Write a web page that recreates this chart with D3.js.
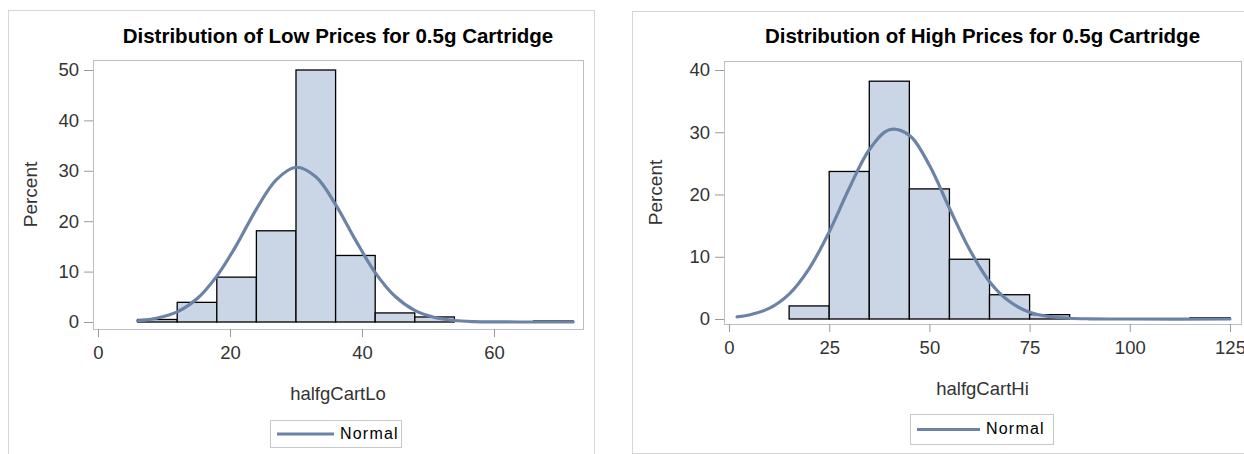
<!DOCTYPE html>
<html lang="en">
<head>
  <meta charset="UTF-8">
  <title>Distribution of Prices for 0.5g Cartridge</title>
  <script src="https://d3js.org/d3.v7.min.js"></script>
  <style>
    body { margin: 0; background: #fff; }
    text { font-family: "Liberation Sans", Arial, sans-serif; }
  </style>
</head>
<body>
<div id="chart"></div>
<script>

  // ---- low prices panel ----
  const loBinStart = [6, 12, 18, 24, 30, 36, 42, 48, 54, 60, 66];
  const loBinWidth = 6;
  const loPercent = [0.5, 3.9, 8.9, 18.1, 50.0, 13.2, 1.8, 1.0, 0, 0, 0.2];
  const loCurveX = [6, 9, 12, 15, 18, 21, 24, 27, 30, 33, 36, 39, 42, 45, 48, 51, 54, 57, 60, 66, 72];
  const loCurveY = [0.25, 0.8, 2.0, 4.6, 9.1, 15.3, 22.4, 28.2, 30.7, 28.8, 23.3, 16.3, 9.8, 5.1, 2.3, 0.9, 0.3, 0.08, 0.02, 0, 0];
  const loTicksX = [0, 20, 40, 60];
  const loTicksY = [0, 10, 20, 30, 40, 50];

  // ---- high prices panel ----
  const hiBinStart = [15, 25, 35, 45, 55, 65, 75, 85, 95, 105, 115];
  const hiBinWidth = 10;
  const hiPercent = [2.1, 23.7, 38.2, 20.9, 9.6, 3.9, 0.7, 0, 0, 0, 0.2];
  const hiCurveX = [2, 5, 10, 15, 20, 25, 30, 35, 40, 45, 50, 55, 60, 65, 70, 75, 80, 85, 90, 100, 125];
  const hiCurveY = [0.33, 0.64, 1.7, 4.0, 8.1, 14.0, 21.0, 27.2, 30.4, 29.5, 24.7, 17.8, 11.2, 6.0, 2.8, 1.1, 0.4, 0.12, 0.03, 0, 0];
  const hiTicksX = [0, 25, 50, 75, 100, 125];
  const hiTicksY = [0, 10, 20, 30, 40];

  const barFill = "#cad5e5";
  const curveColor = "#6a83a6";

  var svg = d3.select("#chart").append("svg")
    .attr("width", 1244)
    .attr("height", 454);

  function drawPanel(p) {
    var g = svg.append("g");

    // outer border of the graph
    g.append("rect")
      .attr("x", p.box[0] + 0.5).attr("y", p.box[1] + 0.5)
      .attr("width", p.box[2]).attr("height", p.box[3])
      .attr("fill", "none").attr("stroke", "#d6d6d6");

    var xScale = d3.scaleLinear().domain(p.xDomain).range(p.xRange);
    var yScale = d3.scaleLinear().domain(p.yDomain).range(p.yRange);

    // plot frame
    g.append("rect")
      .attr("x", p.frame[0] + 0.5).attr("y", p.frame[1] + 0.5)
      .attr("width", p.frame[2] - p.frame[0]).attr("height", p.frame[3] - p.frame[1])
      .attr("fill", "none").attr("stroke", "#b9bfc6");

    // bars
    g.append("g").selectAll("rect")
      .data(p.starts.map((s, i) => ({ s: s, v: p.values[i] })))
      .join("rect")
      .attr("x", d => xScale(d.s))
      .attr("width", d => xScale(d.s + p.binWidth) - xScale(d.s))
      .attr("y", d => yScale(d.v))
      .attr("height", d => yScale(0) - yScale(d.v))
      .attr("fill", barFill)
      .attr("stroke", "#000")
      .attr("stroke-width", 1.3);

    // normal curve
    var line = d3.line()
      .x(d => xScale(d[0]))
      .y(d => yScale(d[1]))
      .curve(d3.curveCatmullRom);
    g.append("path")
      .datum(p.curveX.map((x, i) => [x, p.curveY[i]]))
      .attr("d", line)
      .attr("fill", "none")
      .attr("stroke", curveColor)
      .attr("stroke-width", 3.2)
      .attr("stroke-linecap", "round");

    // axes
    var yAxis = d3.axisLeft(yScale).tickValues(p.yTicks).tickSize(9).tickPadding(5);
    var gy = g.append("g").attr("transform", `translate(${p.frame[0]},0)`).call(yAxis);
    var xAxis = d3.axisBottom(xScale).tickValues(p.xTicks).tickSize(8).tickPadding(9);
    var gx = g.append("g").attr("transform", `translate(0,${p.frame[3]})`).call(xAxis);
    [gx, gy].forEach(a => {
      a.select(".domain").remove();
      a.selectAll(".tick line").attr("stroke", "#9a9a9a");
      a.selectAll(".tick text")
        .attr("fill", "#333")
        .style("font-size", "18.5px")
        .style("font-family", '"Liberation Sans", Arial, sans-serif');
    });

    // title
    g.append("text")
      .attr("x", (p.frame[0] + p.frame[2]) / 2).attr("y", 43)
      .attr("text-anchor", "middle")
      .style("font-size", "20.5px").style("font-weight", "bold")
      .attr("fill", "#000")
      .text(p.title);

    // axis labels
    g.append("text")
      .attr("transform", `translate(${p.yLabelX},${(p.frame[1] + p.frame[3]) / 2}) rotate(-90)`)
      .attr("text-anchor", "middle").attr("dominant-baseline", "middle")
      .style("font-size", "19px").attr("fill", "#333")
      .text("Percent");
    g.append("text")
      .attr("x", (p.frame[0] + p.frame[2]) / 2).attr("y", p.xLabelY)
      .attr("text-anchor", "middle").attr("dominant-baseline", "middle")
      .style("font-size", "18.5px").attr("fill", "#333")
      .text(p.xLabel);

    // legend
    var lg = g.append("g").attr("transform", `translate(${p.legend[0]},${p.legend[1]})`);
    lg.append("rect")
      .attr("x", 0.5).attr("y", 0.5).attr("width", p.legend[2]).attr("height", p.legend[3])
      .attr("fill", "#fff").attr("stroke", "#c8c8c8");
    lg.append("line")
      .attr("x1", 7).attr("x2", p.legend[4]).attr("y1", p.legend[3] / 2 + 0.5).attr("y2", p.legend[3] / 2 + 0.5)
      .attr("stroke", curveColor).attr("stroke-width", 3.2);
    lg.append("text")
      .attr("x", p.legend[4] + 6).attr("y", p.legend[3] / 2 + 1)
      .attr("dominant-baseline", "middle")
      .style("font-size", "16px").style("letter-spacing", "1.2px")
      .attr("fill", "#000")
      .text("Normal");
  }

  drawPanel({
    title: "Distribution of Low Prices for 0.5g Cartridge",
    xLabel: "halfgCartLo",
    box: [8, 10, 586, 460],
    frame: [93, 60, 583, 329],
    xDomain: [0, 60], xRange: [98, 494],
    yDomain: [0, 50], yRange: [322, 70],
    starts: loBinStart, binWidth: loBinWidth, values: loPercent,
    curveX: loCurveX, curveY: loCurveY,
    xTicks: loTicksX, yTicks: loTicksY,
    yLabelX: 32, xLabelY: 395,
    legend: [270, 420, 131, 27, 64]
  });

  drawPanel({
    title: "Distribution of High Prices for 0.5g Cartridge",
    xLabel: "halfgCartHi",
    box: [632, 11, 640, 442],
    frame: [724, 61, 1241, 324],
    xDomain: [0, 125], xRange: [729, 1230],
    yDomain: [0, 40], yRange: [319, 70],
    starts: hiBinStart, binWidth: hiBinWidth, values: hiPercent,
    curveX: hiCurveX, curveY: hiCurveY,
    xTicks: hiTicksX, yTicks: hiTicksY,
    yLabelX: 657, xLabelY: 390,
    legend: [910, 414, 143, 30, 70]
  });

</script>
</body>
</html>
